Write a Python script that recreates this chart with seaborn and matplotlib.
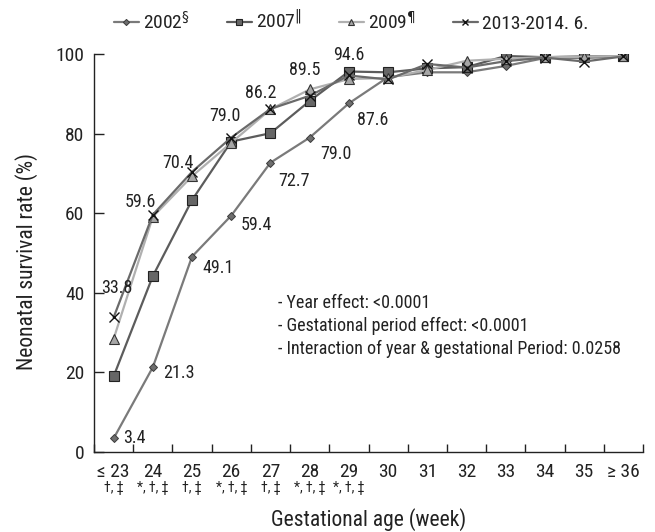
import matplotlib
matplotlib.use("Agg")
import matplotlib.pyplot as plt
import matplotlib.transforms as mtransforms
import seaborn as sns
import pandas as pd
import numpy as np

categories = ["≤ 23", "24", "25", "26", "27", "28", "29", "30", "31", "32", "33", "34", "35", "≥ 36"]
y2002 = [3.4, 21.3, 49.1, 59.4, 72.7, 79.0, 87.6, 94.2, 95.4, 95.4, 97.0, 99.0, 99.0, 99.4]
y2007 = [19.0, 44.2, 63.3, 78.0, 80.1, 88.2, 95.6, 95.4, 96.4, 96.7, 99.5, 99.2, 99.4, 99.4]
y2009 = [28.4, 59.1, 69.3, 77.7, 86.1, 91.1, 93.7, 94.0, 96.0, 98.3, 98.8, 99.2, 99.3, 99.5]
y2013 = [33.8, 59.6, 70.4, 79.0, 86.2, 89.5, 94.6, 93.6, 97.5, 96.6, 98.2, 99.1, 98.1, 99.4]
series_names = ["2002$^{\\S}$", "2007$^{\\Vert}$", "2009$^{\\P}$", "2013-2014. 6."]
signif = ["†, ‡", "*, †, ‡", "†, ‡", "*, †, ‡", "†, ‡", "*, †, ‡", "*, †, ‡"]
stats_lines = ["- Year effect: <0.0001",
               "- Gestational period effect: <0.0001",
               "- Interaction of year & gestational Period: 0.0258"]
ylab = "Neonatal survival rate (%)"
xlab = "Gestational age (week)"

sns.set_style("ticks")
plt.rcParams["font.family"] = ["Roboto Condensed", "DejaVu Sans"]
plt.rcParams["mathtext.fontset"] = "dejavusans"
TXT = "#222222"

W, H = 655, 532
fig = plt.figure(figsize=(W / 100, H / 100), dpi=100)
ax = fig.add_axes([94 / W, 1 - 452 / H, 549 / W, 398 / H])

xs = np.arange(len(categories))
styles = [
    dict(data=y2002, color="#7a7a7a", marker="D", ms=4.5, mfc="#6e6e6e", mec="#3a3a3a", mew=0.7),
    dict(data=y2007, color="#5c5c5c", marker="s", ms=6.5, mfc="#666666", mec="#222222", mew=0.8),
    dict(data=y2009, color="#b0b0b0", marker="^", ms=6.5, mfc="#a6a6a6", mec="#333333", mew=0.8),
    dict(data=y2013, color="#6a6a6a", marker="x", ms=6.5, mfc="none", mec="#111111", mew=1.0),
]
for name, st in zip(series_names, styles):
    df = pd.DataFrame({"x": xs, "y": st["data"]})
    sns.lineplot(data=df, x="x", y="y", ax=ax, color=st["color"], lw=1.6,
                 marker=st["marker"], markersize=st["ms"], markerfacecolor=st["mfc"],
                 markeredgecolor=st["mec"], markeredgewidth=st["mew"], label=name)

ax.set_xlim(-0.5, len(categories) - 0.5)
ax.set_ylim(0, 100)
ax.set_yticks([0, 20, 40, 60, 80, 100])
ax.set_xticks(xs)
ax.set_xticklabels(categories)
ax.set_xticks(np.arange(-0.5, len(categories) + 0.5, 1), minor=True)
ax.tick_params(axis="x", which="major", length=0, pad=8, labelsize=14, labelcolor=TXT)
ax.tick_params(axis="x", which="minor", direction="in", length=5.5, width=1.0, color=TXT)
ax.tick_params(axis="y", direction="in", length=7, width=1.0, pad=7, labelsize=14,
               labelcolor=TXT, color=TXT)
for s in ["top", "right"]:
    ax.spines[s].set_visible(False)
for s in ["left", "bottom"]:
    ax.spines[s].set_linewidth(1.0)
    ax.spines[s].set_color(TXT)
ax.set_xlabel(xlab, fontsize=15.5, color=TXT)
ax.set_ylabel(ylab, fontsize=15.5, color=TXT)
ax.xaxis.set_label_coords(0.5, (452 - 508) / 398)
ax.yaxis.set_label_coords((38 - 94) / 549, (452 - 261) / 398)

def lab(i, val, dx, dy, ha="center"):
    ax.annotate(f"{val:.1f}", (xs[i], val), xytext=(dx, dy), textcoords="offset pixels",
                ha=ha, va="center", fontsize=13, color=TXT)

# 2013 labels (above the curve)
offs2013 = [(3, 29), (-12, 13), (-14, 9), (-6, 22), (-10, 16), (-5, 26), (0, 20)]
for i, (dx, dy) in enumerate(offs2013):
    lab(i, y2013[i], dx, dy)
# 2002 labels (right-below the curve)
offs2002 = [(10, 0), (10, -6), (10, -11), (9, -9), (8, -18), (11, -16), (8, -17)]
for i, (dx, dy) in enumerate(offs2002):
    lab(i, y2002[i], dx, dy, ha="left")

# significance marks under tick labels
trans = mtransforms.blended_transform_factory(ax.transData, ax.transAxes)
for i, s in enumerate(signif):
    ax.text(xs[i], (452 - 488) / 398, s, transform=trans, ha="center", va="center",
            fontsize=10, color=TXT)

# statistics text
for t, yp in zip(stats_lines, [303, 326, 349]):
    fig.text(278 / W, 1 - yp / H, t, fontsize=13, color=TXT, va="center", ha="left")

ax.legend(loc="center", ncol=4, frameon=False, fontsize=14, handlelength=1.3,
          handletextpad=0.2, columnspacing=1.9, borderaxespad=0, labelcolor=TXT,
          markerscale=0.7, bbox_to_anchor=((351 - 94) / 549, (452 - 21) / 398))

fig.savefig("out.png", dpi=100)
